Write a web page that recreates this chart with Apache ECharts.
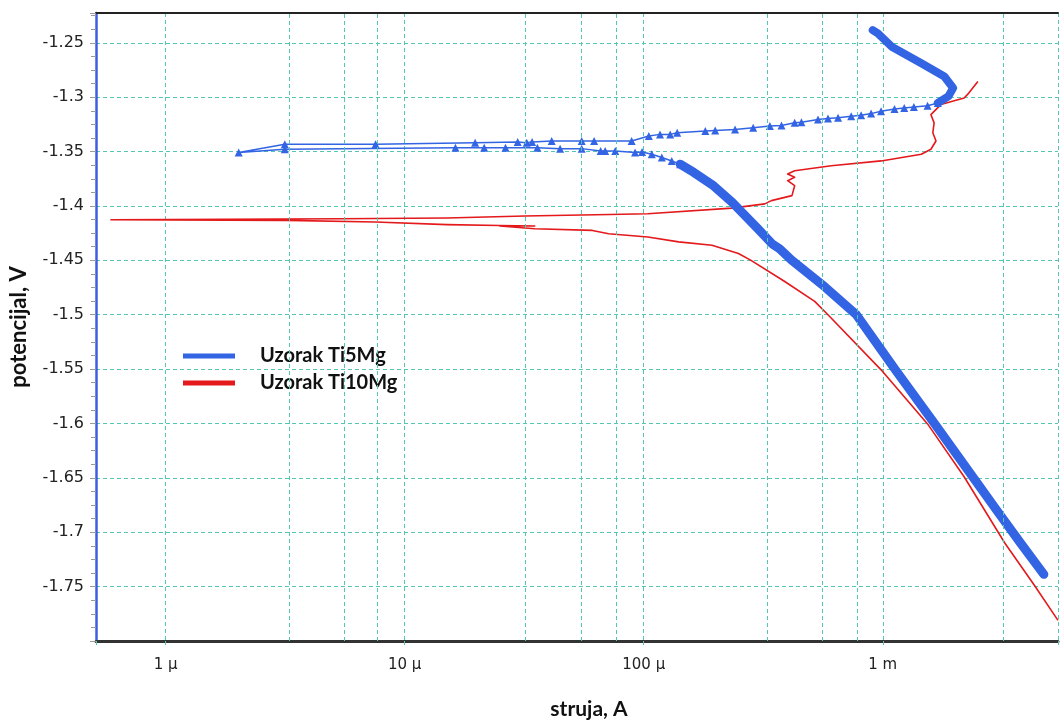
<!DOCTYPE html>
<html><head><meta charset="utf-8">
<script src="https://cdn.jsdelivr.net/npm/echarts@6/dist/echarts.min.js"></script>
<style>html,body{margin:0;padding:0;background:#fff}#c{width:1061px;height:725px}</style>
</head><body><div id="c"></div>
<script>
// Axis ticks / labels
const xTickValues = [1e-6, 1e-5, 1e-4, 1e-3];
const xTickLabels = ['1 µ', '10 µ', '100 µ', '1 m'];
const xExtraGrid = [3.3e-6, 5.6e-6, 7.7e-6, 3.2e-5, 5.5e-5, 7.7e-5, 3.3e-4, 5.6e-4, 7.8e-4, 3.2e-3];
const yTickValues = [-1.25, -1.3, -1.35, -1.4, -1.45, -1.5, -1.55, -1.6, -1.65, -1.7, -1.75];
const yTickLabels = ['-1.25', '-1.3', '-1.35', '-1.4', '-1.45', '-1.5', '-1.55', '-1.6', '-1.65', '-1.7', '-1.75'];
const yRange = [-1.8, -1.2226];
const xRange = [5.11e-7, 5.41e-3];

const seriesNames = ['Uzorak Ti5Mg', 'Uzorak Ti10Mg'];

// Ti5Mg: [current A, potential V]
const ti5Cathodic = [[4.72e-3,-1.7387],[3.77e-3,-1.7099],[2.99e-3,-1.6794],[2.38e-3,-1.649],[1.65e-3,-1.6004],[1.13e-3,-1.5507],[7.75e-4,-1.5],[5.72e-4,-1.4744],[4.15e-4,-1.4498],[3.7e-4,-1.4393],[3.45e-4,-1.435],[3.0e-4,-1.4209],[2.57e-4,-1.4057],[2.34e-4,-1.3965],[1.96e-4,-1.3815],[1.62e-4,-1.3692],[1.42e-4,-1.3616]];
const ti5Middle = [[1.42e-4,-1.3616],[1.31e-4,-1.3586],[1.19e-4,-1.3555],[1.08e-4,-1.3525],[9.84e-5,-1.3504],[9.2e-5,-1.3509],[7.6e-5,-1.3495],[6.9e-5,-1.3495],[6.6e-5,-1.3495],[5.5e-5,-1.3473],[4.47e-5,-1.3473],[3.59e-5,-1.3464],[2.64e-5,-1.3464],[2.15e-5,-1.3464],[1.63e-5,-1.3464],[3.15e-6,-1.3479],[2.02e-6,-1.3509],
  [3.15e-6,-1.3433],[7.55e-6,-1.3433],[1.97e-5,-1.3418],[2.97e-5,-1.3412],[3.24e-5,-1.3418],[3.41e-5,-1.3412],[4.12e-5,-1.3403],[5.5e-5,-1.3403],[6.2e-5,-1.3403],[8.9e-5,-1.3403],[1.05e-4,-1.3357],[1.17e-4,-1.3342],[1.29e-4,-1.3342],[1.38e-4,-1.3327],[1.81e-4,-1.3312],[1.99e-4,-1.3306],[2.41e-4,-1.3297],[2.87e-4,-1.3281],[3.37e-4,-1.3266],[3.77e-4,-1.326],[4.28e-4,-1.3236],[4.57e-4,-1.323],[5.36e-4,-1.3205],[5.9e-4,-1.3196],[6.5e-4,-1.319],[7.38e-4,-1.3175],[8.12e-4,-1.3166],[8.94e-4,-1.3151],[9.84e-4,-1.313],[1.12e-3,-1.3108],[1.23e-3,-1.3099],[1.35e-3,-1.309],[1.54e-3,-1.3078],[1.70e-3,-1.3053]];
const ti5Anodic = [[1.70e-3,-1.3053],[1.88e-3,-1.2993],[1.97e-3,-1.2916],[1.81e-3,-1.281],[1.45e-3,-1.2688],[1.09e-3,-1.2536],[9.54e-4,-1.2414],[9.08e-4,-1.2384]];

// Ti10Mg: [current A, potential V]
const ti10Curve = [[5.41e-3,-1.781],[4.33e-3,-1.7494],[3.24e-3,-1.7099],[2.19e-3,-1.649],[1.54e-3,-1.6004],[9.84e-4,-1.5507],[5.9e-4,-1.5],[5.19e-4,-1.4878],[3.89e-4,-1.4695],[2.8e-4,-1.4498],[2.49e-4,-1.4437],[1.93e-4,-1.4361],[1.40e-4,-1.433],[1.04e-4,-1.4285],[7.13e-5,-1.4255],[6.1e-5,-1.4225],[3.5e-5,-1.4209],[2.5e-5,-1.4185],[3.5e-5,-1.4185],[2.5e-5,-1.418],[1.5e-5,-1.4172],[7.55e-6,-1.4148],[3.2e-6,-1.4133],[5.9e-7,-1.4127],[5.35e-6,-1.4118],[1.5e-5,-1.4111],[3.18e-5,-1.4093],[7.2e-5,-1.4078],[1.04e-4,-1.4072],[2.34e-4,-1.402],[3.21e-4,-1.3981],[3.42e-4,-1.3951],[4.17e-4,-1.3905],[4.28e-4,-1.3814],[4.0e-4,-1.3768],[4.28e-4,-1.3737],[4.0e-4,-1.3707],[4.28e-4,-1.3677],[6.09e-4,-1.3631],[9.84e-4,-1.3586],[1.45e-3,-1.3525],[1.59e-3,-1.3479],[1.67e-3,-1.3403],[1.62e-3,-1.3327],[1.64e-3,-1.3236],[1.59e-3,-1.316],[1.75e-3,-1.3068],[2.19e-3,-1.3007],[2.26e-3,-1.2977],[2.5e-3,-1.2856]];

const BLUE = '#3264e4';
const RED = '#e3191c';
const GRIDC = '#55c6b2';

function near(a, b) { return Math.abs(Math.log10(Math.abs(a)) - Math.log10(Math.abs(b))) < 1e-6; }

const chart = echarts.init(document.getElementById('c'), null, { renderer: 'canvas' });
chart.setOption({
  animation: false,
  backgroundColor: '#fff',
  grid: { left: 95, right: 0, top: 13, bottom: 81 },
  legend: {
    orient: 'vertical', left: 178, top: 340, itemWidth: 52, itemHeight: 5, itemGap: 5,
    data: [{ name: seriesNames[0], icon: 'rect' }, { name: seriesNames[1], icon: 'rect' }],
    textStyle: { fontFamily: 'Lato', fontWeight: 'bold', fontSize: 20, color: '#111', lineHeight: 22, padding: [0, 0, 0, 20] },
    selectedMode: false
  },
  xAxis: [{
    type: 'log', logBase: 10, min: xRange[0], max: xRange[1],
    name: 'struja, A', nameLocation: 'middle', nameGap: 58,
    nameTextStyle: { fontFamily: 'Lato', fontWeight: 'bold', fontSize: 21, color: '#111', padding: [0, 0, 0, 24] },
    axisLine: { show: true, onZero: false, lineStyle: { color: '#333', width: 3 } },
    axisTick: { show: true, length: 7, lineStyle: { color: GRIDC, type: [4, 3] } },
    axisLabel: {
      margin: 17, fontFamily: 'DejaVu Sans', fontSize: 15, color: '#222',
      formatter: function (v) { for (let i = 0; i < xTickValues.length; i++) if (near(v, xTickValues[i])) return xTickLabels[i]; return ''; }
    },
    splitLine: { show: true, lineStyle: { color: GRIDC, type: [4, 3], width: 1 } },
    minorTick: { show: false }, minorSplitLine: { show: false }
  }, {
    type: 'log', logBase: 10, min: xRange[0], max: xRange[1], position: 'top',
    axisLine: { show: true, onZero: false, lineStyle: { color: '#222', width: 2 } },
    axisTick: { show: false }, axisLabel: { show: false }, splitLine: { show: false }
  }],
  yAxis: {
    type: 'value', min: yRange[0], max: yRange[1], interval: 0.05,
    name: 'potencijal, V', nameLocation: 'middle', nameGap: 66, nameRotate: 90,
    nameTextStyle: { fontFamily: 'Lato', fontWeight: 'bold', fontSize: 22, color: '#111' },
    axisLine: { show: true, onZero: false, lineStyle: { color: '#3c5ee0', width: 2.5 } },
    axisTick: { show: true, length: 6, lineStyle: { color: '#999' } },
    minorTick: { show: true, splitNumber: 4, length: 5, lineStyle: { color: '#999' } },
    axisLabel: {
      margin: 12, fontFamily: 'DejaVu Sans', fontSize: 16, color: '#222',
      formatter: function (v) { for (let i = 0; i < yTickValues.length; i++) if (Math.abs(v - yTickValues[i]) < 1e-6) return yTickLabels[i]; return ''; }
    },
    splitLine: { show: true, lineStyle: { color: GRIDC, type: [4, 3], width: 1 } }
  },
  series: [
    { name: seriesNames[1], type: 'line', data: ti10Curve, color: RED, symbol: 'none', z: 3,
      lineStyle: { color: RED, width: 1.6, join: 'round' },
      markLine: { silent: true, symbol: ['none', 'none'], label: { show: false }, animation: false,
        lineStyle: { color: GRIDC, type: [4, 3], width: 1 },
        emphasis: { disabled: true },
        data: xExtraGrid.map(v => [{ coord: [v, yRange[0]] }, { coord: [v, yRange[1]] }]) } },
    { name: seriesNames[0], type: 'line', data: ti5Cathodic, color: BLUE, symbol: 'none', z: 4,
      lineStyle: { color: BLUE, width: 9, cap: 'round', join: 'round' } },
    { name: seriesNames[0], type: 'line', data: ti5Middle, color: BLUE, symbol: 'triangle', symbolSize: 8, showAllSymbol: true, z: 4,
      itemStyle: { color: BLUE }, lineStyle: { color: BLUE, width: 1.5 } },
    { name: seriesNames[0], type: 'line', data: ti5Anodic, color: BLUE, symbol: 'none', z: 4,
      lineStyle: { color: BLUE, width: 8, cap: 'round', join: 'round' } }
  ]
});
</script></body></html>
